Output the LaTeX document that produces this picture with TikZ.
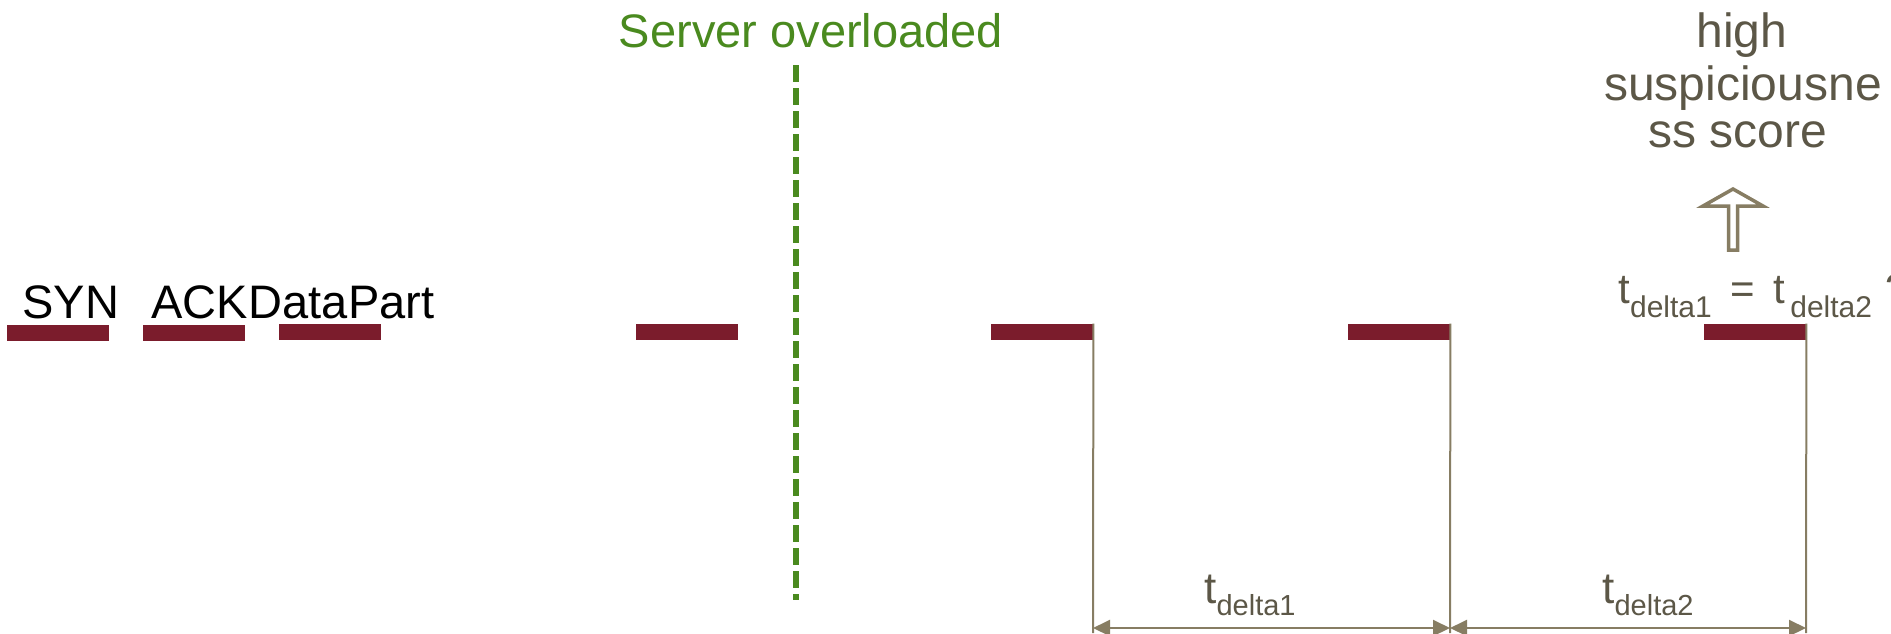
\documentclass[tikz,border=0pt]{standalone}
\usepackage{fontspec}
\setmainfont{Liberation Sans}
\usetikzlibrary{arrows.meta}
\definecolor{barred}{RGB}{123,28,44}
\definecolor{srvgreen}{RGB}{74,138,31}
\definecolor{tanline}{RGB}{135,125,99}
\definecolor{olivetext}{RGB}{92,87,71}
\tikzset{
  bar/.style={fill=barred,draw=none,minimum width=51pt,minimum height=8pt,inner sep=0pt},
  lbl/.style={inner sep=0pt,font=\fontsize{23.5}{26}\selectfont},
  grey/.style={inner sep=0pt,text=olivetext,font=\fontsize{24}{26}\selectfont},
  dimline/.style={draw=tanline,line width=1pt},
  dimarrow/.style={draw=tanline,line width=1pt,{Triangle[length=8.5pt,width=8pt]}-{Triangle[length=8.5pt,width=8pt]}},
}
\newcommand{\tsub}[3]{t{\fontsize{#1}{#1}\selectfont\raisebox{-#2}{#3}}}
\begin{document}
\begin{tikzpicture}[x=0.5pt,y=-0.5pt]
\useasboundingbox (0,0) rectangle (1891,633);
\clip (0,0) rectangle (1891,633);
\fill[white] (0,0) rectangle (1891,633);
% bars
\node[bar] (b1) at (58,333) {};
\node[bar] (b2) at (194,333) {};
\node[bar] (b3) at (329.5,332) {};
\node[bar] (b4) at (686.5,332) {};
\node[bar] (b5) at (1042,332) {};
\node[bar] (b6) at (1399,332) {};
\node[bar] (b7) at (1755,332) {};
% labels
\node[lbl,anchor=base west] (syn) at (22,318) {SYN};
\node[lbl,anchor=base west] (ack) at (151,318) {ACK};
\node[lbl,anchor=base west] (dp) at (ack.base east) {DataPart};
% server overloaded
\node[lbl,text=srvgreen,anchor=base] (srv) at (811,47) {Server overloaded};
\coordinate (g1) at (796,65);
\coordinate (g2) at (796,600);
\draw[srvgreen,line width=3pt,dash pattern=on 8.5pt off 3pt] (g1) -- (g2);
% vertical lines
\coordinate (v1) at (1093,633);
\coordinate (v2) at (1450,633);
\coordinate (v3) at (1806,633);
\draw[dimline] (b5.north east) -- (v1);
\draw[dimline] (b6.north east) -- (v2);
\draw[dimline] (b7.north east) -- (v3);
\coordinate (a1) at (1093,628);
\coordinate (a2) at (1450,628);
\coordinate (a3) at (1806,628);
\draw[dimarrow] (a1) -- (a2);
\draw[dimarrow] (a2) -- (a3);
\node[inner sep=0pt,text=olivetext,anchor=base,font=\fontsize{22}{24}\selectfont] (d1) at (1250,603) {\tsub{14.5}{6pt}{delta1}};
\node[inner sep=0pt,text=olivetext,anchor=base,font=\fontsize{22}{24}\selectfont] (d2) at (1648,603) {\tsub{14.5}{6pt}{delta2}};
% equation
\node[inner sep=0pt,text=olivetext,anchor=base west,font=\fontsize{21}{24}\selectfont] (eq) at (1618,303) {\tsub{15}{7pt}{delta1}\hspace{3.5pt} =\hspace{3.5pt} t\hspace{2.5pt}{\fontsize{15}{15}\selectfont\raisebox{-7pt}{delta2}}\hspace{1pt} ?};
% hollow arrow
\draw[tanline,line width=1.75pt,line join=miter] (1733,189) -- (1763,206) -- (1737.5,206) -- (1737.5,250) -- (1728.5,250) -- (1728.5,206) -- (1703,206) -- cycle;
% high suspiciousness score
\node[grey,anchor=base] (h1) at (1742,47) {high};
\node[grey,anchor=base] (h2) at (1743,100) {suspiciousne};
\node[grey,anchor=base] (h3) at (1738,147) {ss score};
\end{tikzpicture}
\end{document}
